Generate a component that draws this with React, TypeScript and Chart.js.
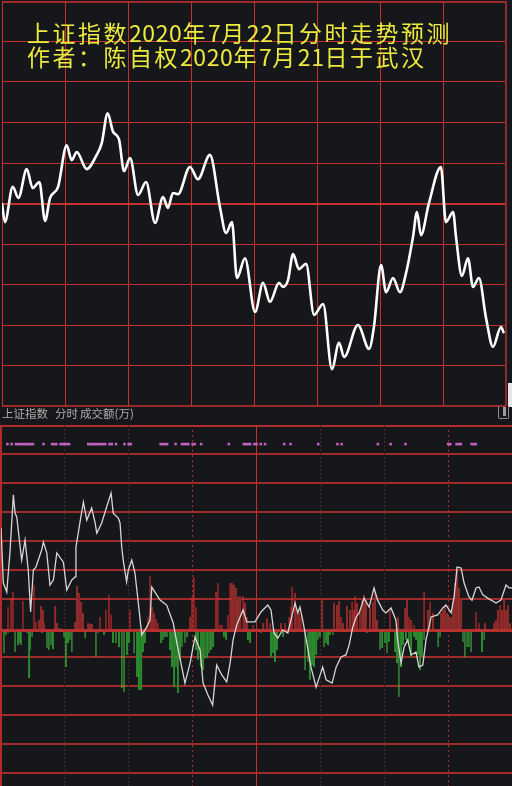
import React, { useEffect, useRef } from "react";
import { Chart, registerables } from "chart.js";

Chart.register(...registerables);

const BG = "#16171a";
const YELLOW = "#ecea3e";
const CJK = '"Noto Sans CJK SC", "Noto Sans", sans-serif';

const TITLE_LINE_1 = "上证指数2020年7月22日分时走势预测";
const TITLE_LINE_2 = "作者：陈自权2020年7月21日于武汉";
const HEADER_LABELS = ["上证指数", "分时", "成交额(万)"];

// ---- top panel: forecast intraday curve (minute, grid units) ----
const TOP_MINUTES = [0, 1.4, 5.1, 7.8, 11.8, 14.6, 17.8, 20.5, 22.9, 26.7, 30.8, 33.2, 35.6, 40.3, 45.1, 47.5, 50.3, 52.9, 55.7, 58.1, 61.0, 64.8, 68.6, 72.9, 76.7, 79.0, 81.4, 83.8, 89.5, 93.3, 99.0, 103.8, 106.7, 109.5, 111.9, 115.7, 120.5, 124.3, 127.6, 131.9, 133.8, 136.2, 138.6, 141.4, 144.8, 148.6, 152.9, 157.1, 160.5, 162.9, 169.5, 174.8, 177.1, 180.5, 182.9, 186.2, 189.5, 192.4, 195.7, 197.6, 199.5, 203.3, 209.0, 211.4, 214.8, 216.2, 219.0, 221.9, 224.3, 227.1, 230.5, 233.8, 237.6, 239.0];
const TOP_VALUES = [5.01, 4.54, 5.41, 5.14, 5.85, 5.38, 5.53, 4.57, 5.14, 5.41, 6.44, 6.07, 6.27, 5.85, 6.20, 6.49, 7.23, 6.77, 6.59, 5.80, 6.12, 5.21, 5.53, 4.52, 5.16, 4.89, 5.26, 5.23, 5.90, 5.60, 6.20, 4.91, 4.27, 4.54, 3.16, 3.65, 2.32, 3.04, 2.57, 3.04, 2.94, 3.11, 3.75, 3.38, 3.51, 2.25, 2.52, 0.91, 1.56, 1.21, 2.00, 1.41, 1.95, 3.48, 2.81, 3.16, 2.81, 3.28, 4.17, 4.79, 4.22, 5.01, 5.90, 4.54, 4.79, 4.17, 3.21, 3.65, 2.94, 3.16, 2.17, 1.46, 1.95, 1.80];
const TOP_X_GRID = [0, 30, 60, 90, 120, 150, 180, 210, 240];
const TOP_Y_GRID = [0, 1, 2, 3, 4, 5, 6, 7, 8, 9, 10];

// ---- bottom panel: turnover bars + indicator line ----
const BOTTOM_MIN = -5.379;
const BOTTOM_MAX = 7.069;
const BOTTOM_Y_GRID = [6.069, 5.069, 4.069, 3.069, 2.069, 1.069, -0.931, -1.931, -2.931, -3.931, -4.931];
const SIGNAL_LEVEL = 6.41;
const SIGNAL_MINUTES = [3, 5, 7, 8, 9, 10, 11, 12, 13, 14, 15, 20, 24, 25, 26, 28, 29, 30, 31, 32, 41, 42, 43, 44, 45, 46, 47, 48, 49, 51, 52, 54, 58, 60, 61, 75, 76, 77, 78, 82, 85, 86, 87, 88, 90, 91, 94, 107, 114, 115, 116, 117, 119, 120, 122, 124, 133, 136, 149, 158, 160, 177, 183, 190, 210, 211, 214, 215, 216, 221, 222, 223];

const RED_BRIGHT = [[3.3, 0.79], [4.7, 1.10], [5.6, 1.31], [10.3, 1.00], [15.5, 1.55], [16.4, 0.28], [46.5, 0.45], [49.3, 0.69], [50.7, 1.21], [51.7, 0.52], [60.6, 0.69], [69.0, 0.45], [70.0, 1.86], [72.8, 0.38], [73.7, 0.24], [89.7, 1.14], [90.6, 1.83], [91.6, 0.79], [101.9, 1.62], [102.9, 0.17], [103.8, 0.17], [106.6, 0.52], [107.6, 1.62], [113.7, 1.17], [118.4, 0.17], [133.4, 0.24], [135.3, 0.45], [136.2, 0.79], [136.7, 1.48], [139.0, 0.69], [140.9, 0.45], [159.7, 0.45], [164.9, 0.97], [166.3, 1.17], [168.6, 0.69], [182.7, 0.69], [191.6, 0.45], [194.0, 0.17], [198.7, 1.31], [201.5, 0.97], [223.1, 0.62], [224.5, 0.24], [234.4, 0.86]];
const RED_DARK = [[17.8, 0.34], [18.8, 0.83], [19.7, 0.69], [20.2, 0.24], [25.4, 0.83], [26.3, 0.24], [27.7, 0.07], [34.8, 0.28], [35.7, 1.52], [36.6, 1.28], [37.6, 0.97], [38.5, 0.59], [40.9, 0.24], [41.8, 0.21], [42.7, 0.21], [70.9, 0.79], [71.9, 0.59], [88.8, 0.45], [101.0, 1.31], [108.5, 1.62], [109.4, 1.55], [110.4, 1.45], [111.3, 1.14], [112.3, 1.17], [114.6, 0.93], [115.5, 0.45], [123.1, 0.24], [124.9, 0.41], [126.4, 0.24], [131.5, 0.24], [138.1, 1.28], [140.0, 0.59], [150.8, 1.03], [156.4, 0.93], [157.8, 0.86], [158.8, 1.00], [160.6, 0.24], [162.5, 0.83], [163.9, 0.69], [165.8, 0.69], [167.2, 0.93], [169.6, 1.10], [170.5, 1.21], [171.4, 1.03], [173.3, 0.79], [174.7, 0.97], [175.7, 1.28], [176.6, 0.34], [186.5, 0.45], [189.8, 0.76], [190.7, 1.03], [192.6, 0.34], [200.6, 0.69], [202.9, 0.59], [206.7, 0.59], [207.6, 0.69], [208.5, 0.86], [209.5, 0.59], [210.4, 0.45], [211.4, 0.45], [212.3, 0.97], [213.2, 1.62], [214.2, 2.07], [215.1, 1.45], [216.1, 1.03], [227.3, 0.24], [231.6, 0.24], [232.5, 0.34], [233.4, 0.69], [235.3, 0.69], [236.3, 1.03], [237.2, 0.69], [238.1, 0.86], [239.1, 0.24]];
const GREEN_BRIGHT = [[1.4, -0.79], [2.3, -0.17], [3.3, -0.10], [6.6, -0.76], [8.9, -0.45], [9.4, -0.52], [12.2, -0.10], [14.6, -0.24], [21.6, -0.62], [22.5, -0.69], [23.5, -0.52], [29.6, -0.24], [32.4, -0.34], [33.3, -0.76], [39.5, -0.28], [44.6, -0.93], [45.6, -0.10], [54.0, -0.45], [56.8, -2.00], [57.8, -2.14], [62.5, -0.79], [76.1, -0.34], [78.0, -0.24], [82.2, -1.28], [85.0, -0.59], [86.4, -0.45], [95.8, -0.97], [97.7, -0.79], [122.1, -0.10], [142.8, -1.38], [144.2, -1.10], [148.9, -0.34], [151.7, -0.59], [155.9, -0.17], [171.9, -0.10], [178.0, -0.69], [181.3, -0.79], [186.9, -2.31], [191.6, -0.45], [198.7, -0.34], [205.3, -0.59], [206.2, -0.24], [217.0, -0.41], [217.9, -0.93], [218.9, -0.59], [219.8, -0.59], [220.8, -0.76], [226.9, -0.34]];
const GREEN_DARK = [[8.0, -0.52], [13.2, -1.66], [13.6, -0.69], [19.3, -0.10], [24.4, -0.66], [30.5, -1.28], [31.5, -0.45], [48.4, -0.17], [52.6, -0.45], [55.4, -0.59], [59.2, -0.86], [60.1, -0.45], [63.9, -1.62], [64.8, -2.07], [65.8, -2.07], [66.7, -0.76], [67.6, -0.45], [75.2, -0.45], [77.0, -0.24], [79.4, -0.69], [80.3, -1.28], [81.3, -1.97], [83.1, -2.17], [84.1, -1.03], [87.4, -0.24], [91.6, -0.69], [92.5, -1.03], [93.9, -1.28], [94.9, -1.38], [96.8, -0.97], [98.6, -0.69], [99.6, -0.59], [104.7, -0.24], [105.7, -0.34], [116.0, -0.34], [117.0, -0.45], [126.8, -0.93], [127.8, -0.79], [128.7, -1.10], [129.6, -0.69], [132.5, -0.24], [145.1, -1.72], [146.1, -1.21], [147.0, -1.28], [148.0, -0.86], [149.8, -0.24], [152.7, -0.45], [153.6, -0.52], [154.5, -0.17], [179.0, -0.62], [180.4, -0.45], [182.2, -0.41], [185.1, -0.76], [186.0, -1.14], [187.9, -1.28], [188.8, -0.52], [190.2, -0.34], [192.6, -0.93], [194.0, -0.24], [194.9, -0.34], [195.9, -0.86], [196.8, -1.38], [197.7, -0.93], [225.9, -0.76]];
const VOLUME_LINE = [[0, 3.52], [1.1, 1.62], [2.7, 1.31], [4.2, 2.66], [5.8, 4.66], [6.6, 4.03], [7.4, 3.90], [9.7, 2.41], [11.3, 3.10], [12.8, 2.07], [13.9, 0.62], [15.2, 2.07], [16.4, 2.17], [19.1, 2.76], [19.9, 3.03], [21.5, 2.66], [23.0, 1.55], [24.6, 1.72], [26.2, 2.66], [29.3, 2.34], [30.9, 1.38], [33.2, 1.72], [34.8, 1.83], [35.2, 2.86], [37.1, 3.72], [38.7, 4.41], [40.3, 3.79], [42.6, 4.21], [44.2, 3.69], [45.0, 3.34], [47.3, 3.69], [49.6, 4.24], [51.7, 4.72], [52.7, 4.03], [55.1, 3.86], [55.9, 3.69], [56.7, 2.86], [57.4, 2.41], [59.0, 1.66], [59.8, 2.07], [61.4, 2.41], [62.9, 1.97], [64.5, 0.93], [66.1, -0.17], [68.4, 0.10], [70.0, 0.34], [70.8, 1.48], [74.7, 1.03], [77.8, 0.86], [80.9, 0.24], [82.5, -0.41], [84.9, -1.28], [86.4, -1.83], [88.8, -1.14], [91.1, -0.24], [93.5, -0.69], [94.9, -1.83], [97.2, -2.24], [99.4, -2.59], [101.3, -1.21], [103.7, -1.55], [106.0, -1.79], [107.6, -1.14], [109.0, -0.34], [110.7, 0.17], [113.7, 0.69], [115.4, 0.28], [119.3, 0.28], [122.1, 0.62], [125.3, 0.86], [126.8, 0.69], [128.2, -0.10], [130.0, -0.28], [132.3, 0.0], [134.7, -0.10], [137.0, 0.59], [138.1, 0.93], [139.4, 0.59], [140.4, 0.79], [141.7, 0.34], [142.8, -0.10], [145.6, -1.28], [148.0, -1.97], [149.4, -1.66], [151.1, -1.28], [152.7, -1.72], [155.5, -1.83], [157.4, -1.28], [159.7, -0.93], [162.0, -0.86], [163.5, -0.52], [165.2, 0.10], [166.8, 0.45], [168.2, 0.59], [170.5, 1.10], [172.9, 0.79], [175.2, 1.45], [176.9, 1.03], [179.3, 0.69], [180.8, 0.59], [183.2, 0.76], [185.5, 0.34], [186.3, -0.34], [187.9, -1.14], [189.3, -0.59], [191.0, -0.34], [192.6, -0.86], [194.9, -0.76], [196.3, -1.28], [198.1, -1.21], [199.6, -0.34], [201.0, 0.10], [202.0, 0.45], [205.1, 0.52], [207.5, 0.76], [209.0, 0.86], [211.4, 0.59], [212.8, 1.14], [214.2, 2.17], [216.1, 2.14], [217.5, 1.62], [219.8, 1.14], [221.2, 1.03], [223.1, 1.45], [224.5, 1.48], [226.3, 1.21], [228.6, 1.10], [232.5, 0.93], [234.8, 1.03], [237.2, 1.55], [238.6, 1.45], [240, 1.45]];
const BOTTOM_X_GRID = [30, 60, 90, 120, 150, 180, 210];

type GridLine = { axis: "x" | "y"; value: number; color: string; width: number; dash?: number[]; shift?: number };

function snap(p: number, w: number) {
  return Math.round(w) % 2 === 1 ? Math.round(p - 0.5) + 0.5 : Math.round(p);
}

function makeGridPlugin(lines: GridLine[], zero?: { value: number; color: string; width: number }) {
  const drawLine = (chart: any, l: GridLine) => {
    const { ctx, chartArea, scales } = chart;
    ctx.save();
    ctx.beginPath();
    ctx.strokeStyle = l.color;
    ctx.lineWidth = l.width;
    ctx.setLineDash(l.dash || []);
    if (l.axis === "x") {
      const p = snap(scales.x.getPixelForValue(l.value) + (l.shift || 0), l.width);
      ctx.moveTo(p, chartArea.top);
      ctx.lineTo(p, chartArea.bottom);
    } else {
      const p = snap(scales.y.getPixelForValue(l.value) + (l.shift || 0), l.width);
      ctx.moveTo(chartArea.left, p);
      ctx.lineTo(chartArea.right, p);
    }
    ctx.stroke();
    ctx.restore();
  };
  return {
    id: "panelGrid",
    beforeDatasetsDraw(chart: any) {
      lines.forEach((l) => drawLine(chart, l));
    },
    beforeDatasetDraw(chart: any, args: any) {
      if (zero && args.meta.type === "line") {
        drawLine(chart, { axis: "y", value: zero.value, color: zero.color, width: zero.width });
      }
    },
  };
}

const baseOptions = (padding: any, ymin: number, ymax: number, xmax: number) => ({
  responsive: false,
  animation: false as const,
  events: [] as any[],
  layout: { padding, autoPadding: false },
  plugins: { legend: { display: false }, tooltip: { enabled: false }, title: { display: false } },
  scales: {
    x: { type: "linear" as const, min: 0, max: xmax, display: false, offset: false },
    y: { type: "linear" as const, min: ymin, max: ymax, display: false },
  },
});

function TopPanel() {
  const ref = useRef<HTMLCanvasElement | null>(null);
  useEffect(() => {
    if (!ref.current) return;
    const lines: GridLine[] = [];
    TOP_Y_GRID.forEach((v) => {
      if (v === 10) lines.push({ axis: "y", value: v, color: "#a02a2a", width: 2, shift: 1 });
      else if (v === 0) lines.push({ axis: "y", value: v, color: "#9a2a2a", width: 2 });
      else lines.push({ axis: "y", value: v, color: "#c6302d", width: v === 5 ? 2 : 1 });
    });
    TOP_X_GRID.forEach((v) => {
      if (v === 240) lines.push({ axis: "x", value: v, color: "#8c2a2a", width: 2 });
      else lines.push({ axis: "x", value: v, color: "#c6302d", width: 1 });
    });
    const chart = new Chart(ref.current, {
      type: "line",
      data: {
        datasets: [
          {
            data: TOP_MINUTES.map((m, i) => ({ x: m, y: TOP_VALUES[i] })),
            borderColor: "#ffffff",
            borderWidth: 2.6,
            pointRadius: 0,
            cubicInterpolationMode: "monotone",
            fill: false,
          } as any,
        ],
      },
      options: baseOptions({ left: 2, right: 6, top: 1, bottom: 2 }, 0, 10, 240) as any,
      plugins: [makeGridPlugin(lines)],
    });
    return () => chart.destroy();
  }, []);
  return <canvas ref={ref} width={512} height={408} style={{ position: "absolute", left: 0, top: 0 }} />;
}

function BottomPanel() {
  const ref = useRef<HTMLCanvasElement | null>(null);
  useEffect(() => {
    if (!ref.current) return;
    const lines: GridLine[] = [];
    BOTTOM_Y_GRID.forEach((v) => lines.push({ axis: "y", value: v, color: "#a12a2a", width: 2 }));
    lines.push({ axis: "y", value: BOTTOM_MAX, color: "#b02c2c", width: 2, shift: 1 });
    BOTTOM_X_GRID.forEach((v) => {
      if (v === 120) lines.push({ axis: "x", value: v, color: "#c4302e", width: 1 });
      else if (v === 90 || v === 210) lines.push({ axis: "x", value: v, color: "#a82c2c", width: 1, dash: [2, 3] });
      else lines.push({ axis: "x", value: v, color: "#4e2727", width: 1, dash: [2, 2] });
    });
    lines.push({ axis: "x", value: 0, color: "#b02c2c", width: 2 });
    const bar = (d: number[][], color: string, w: number, order: number) => ({
      type: "bar",
      data: d.map(([x, y]) => ({ x, y })),
      backgroundColor: color,
      barThickness: w,
      grouped: false,
      inflateAmount: 0,
      borderWidth: 0,
      order,
    });
    const chart = new Chart(ref.current, {
      type: "bar",
      data: {
        datasets: [
          {
            type: "line",
            data: VOLUME_LINE.map(([x, y]) => ({ x, y })),
            borderColor: "#d6d6d6",
            borderWidth: 1.3,
            pointRadius: 0,
            tension: 0,
            fill: false,
            order: 0,
          },
          {
            type: "scatter",
            data: SIGNAL_MINUTES.map((m) => ({ x: m, y: SIGNAL_LEVEL })),
            pointStyle: "rect",
            pointRadius: 1.8,
            backgroundColor: "#c462c4",
            borderWidth: 0,
            order: 1,
          },
          bar(RED_BRIGHT, "#e82e2e", 1, 2),
          bar(GREEN_BRIGHT, "#46c446", 1, 2),
          bar(RED_DARK, "#8e2b2b", 2, 3),
          bar(GREEN_DARK, "#2b8a2e", 2, 3),
        ] as any,
      },
      options: baseOptions({ left: 1, right: 0, top: 0, bottom: 0 }, BOTTOM_MIN, BOTTOM_MAX, 240) as any,
      plugins: [makeGridPlugin(lines, { value: 0, color: "#b8302e", width: 3 })],
    });
    return () => chart.destroy();
  }, []);
  return <canvas ref={ref} width={512} height={361} style={{ position: "absolute", left: 0, top: 425 }} />;
}

function TitleLine({ text, top }: { text: string; top: number }) {
  const parts = text.split(/(\d+)/).filter(Boolean);
  return (
    <div
      style={{
        position: "absolute",
        left: 27,
        top,
        fontSize: 23,
        lineHeight: "24px",
        color: YELLOW,
        whiteSpace: "nowrap",
        letterSpacing: "2.5px",
        fontFamily: CJK,
      }}
    >
      {parts.map((p, i) =>
        /\d/.test(p) ? (
          <span key={i} style={{ letterSpacing: "0.6px" }}>{p}</span>
        ) : (
          <span key={i}>{p}</span>
        )
      )}
    </div>
  );
}

export default function App() {
  const headerLeft = [2, 55, 80];
  return (
    <div style={{ position: "absolute", left: 0, top: 0, width: 512, height: 786, background: BG, overflow: "hidden" }}>
      <TopPanel />
      <TitleLine text={TITLE_LINE_1} top={20} />
      <TitleLine text={TITLE_LINE_2} top={44} />
      {HEADER_LABELS.map((t, i) => (
        <div
          key={t}
          style={{
            position: "absolute",
            left: headerLeft[i],
            top: 407,
            fontSize: 11.5,
            lineHeight: "12px",
            color: "#adadad",
            fontFamily: CJK,
            whiteSpace: "nowrap",
          }}
        >
          {t}
        </div>
      ))}
      <div style={{ position: "absolute", left: 508, top: 383, width: 4, height: 24, background: "#e6e6e6" }} />
      <div
        style={{
          position: "absolute",
          left: 498,
          top: 406,
          width: 9,
          height: 12,
          borderLeft: "1px solid #8a8a8a",
          borderRight: "1px solid #8a8a8a",
          borderBottom: "1px solid #8a8a8a",
          borderRadius: "0 0 2px 2px",
        }}
      />
      <div style={{ position: "absolute", left: 503, top: 407, width: 3, height: 9, background: "#9a9a9a" }} />
      <BottomPanel />
    </div>
  );
}
